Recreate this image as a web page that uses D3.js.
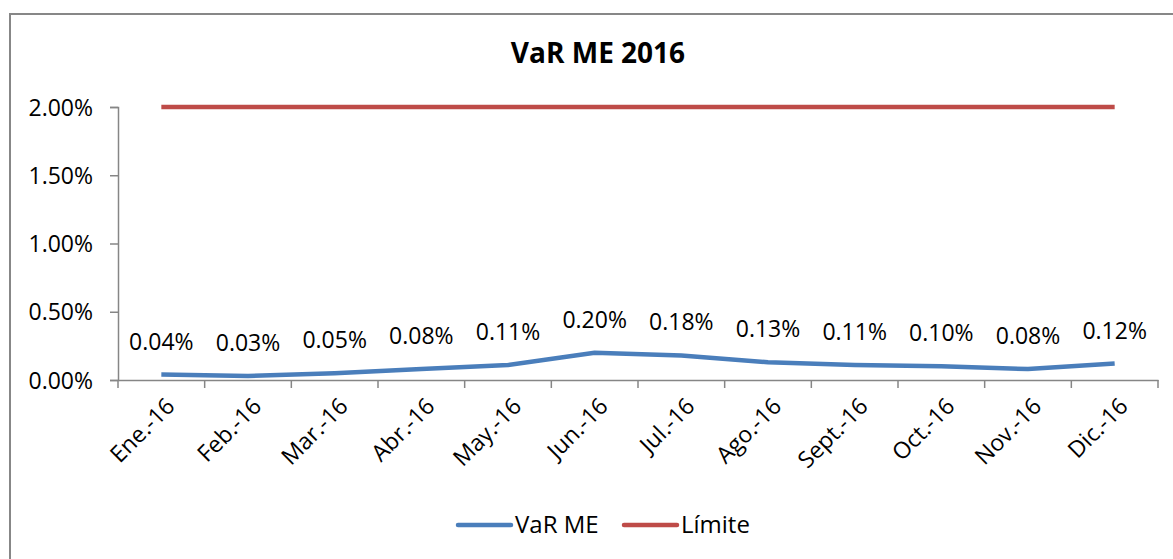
<!DOCTYPE html>
<html>
<head>
<meta charset="utf-8">
<script src="https://cdn.jsdelivr.net/npm/d3@7"></script>
<style>
  body { margin: 0; background: #fff; }
  svg { display: block; font-family: "Open Sans", Lato, sans-serif; }
</style>
</head>
<body>
<svg id="chart" width="1173" height="559"></svg>
<script>
// chart data
const months = ['Ene.-16', 'Feb.-16', 'Mar.-16', 'Abr.-16', 'May.-16', 'Jun.-16',
                'Jul.-16', 'Ago.-16', 'Sept.-16', 'Oct.-16', 'Nov.-16', 'Dic.-16'];
const varMe = [0.0004, 0.0003, 0.0005, 0.0008, 0.0011, 0.0020,
               0.0018, 0.0013, 0.0011, 0.0010, 0.0008, 0.0012];
const limite = [0.02, 0.02, 0.02, 0.02, 0.02, 0.02,
                0.02, 0.02, 0.02, 0.02, 0.02, 0.02];
const yTicks = [0, 0.005, 0.01, 0.015, 0.02];
const seriesNames = ['VaR ME', 'Límite'];
const seriesColors = ['#4a7ebb', '#be4b48'];

const svg = d3.select('#chart');

// outer frame
svg.append('rect')
    .attr('x', 10).attr('y', 14)
    .attr('width', 1180).attr('height', 560)
    .attr('fill', 'none')
    .attr('stroke', '#878787')
    .attr('stroke-width', 2);

const plot = { left: 118, right: 1158, top: 107, bottom: 380 };

const x = d3.scaleBand()
    .domain(months)
    .range([plot.left, plot.right]);

const y = d3.scaleLinear()
    .domain([0, 0.02])
    .range([plot.bottom, plot.top]);

const fs = 23;

// title
svg.append('text')
    .attr('x', 598).attr('y', 63)
    .attr('text-anchor', 'middle')
    .attr('font-size', 28)
    .attr('font-weight', 'bold')
    .text('VaR ME 2016');

// y axis
const yAxis = svg.append('g')
    .attr('transform', `translate(${plot.left},0)`)
    .call(d3.axisLeft(y).tickValues(yTicks).tickFormat(d3.format('.2%')).tickSize(8).tickPadding(17));
yAxis.selectAll('text')
    .attr('font-size', fs)
    .attr('font-family', '"Open Sans", sans-serif')
    .attr('fill', '#000')
    .attr('dy', '0.35em');

// x axis: ticks at band boundaries
const xAxis = svg.append('g')
    .attr('transform', `translate(0,${plot.bottom})`)
    .call(d3.axisBottom(x).tickSizeOuter(0).tickSize(0));
xAxis.selectAll('.tick text')
    .attr('font-size', fs)
    .attr('font-family', '"Open Sans", sans-serif')
    .attr('fill', '#000')
    .attr('text-anchor', 'end')
    .attr('transform', 'translate(9,22) rotate(-45)')
    .attr('dy', '0.35em')
    .attr('x', 0).attr('y', 0);
xAxis.selectAll('.tick-mark')
    .data(d3.range(months.length + 1))
    .enter()
    .append('line')
    .attr('x1', i => plot.left + i * x.step())
    .attr('x2', i => plot.left + i * x.step())
    .attr('y1', 0).attr('y2', 8);

svg.selectAll('.domain, .tick line, g line').attr('stroke', '#868686').attr('stroke-width', 1.5);

// lines
const line = d3.line()
    .x((d, i) => x(months[i]) + x.bandwidth() / 2)
    .y(d => y(d));

[varMe, limite].forEach((series, k) => {
    svg.append('path')
        .datum(series)
        .attr('d', line)
        .attr('fill', 'none')
        .attr('stroke', seriesColors[k])
        .attr('stroke-width', 4.5)
        .attr('stroke-linejoin', 'round');
});

// data labels
svg.selectAll('text.lbl')
    .data(varMe)
    .enter()
    .append('text')
    .attr('class', 'lbl')
    .attr('x', (d, i) => x(months[i]) + x.bandwidth() / 2)
    .attr('y', d => y(d) - 25)
    .attr('text-anchor', 'middle')
    .attr('font-size', fs)
    .text(d => d3.format('.2%')(d));

// legend
const legendItems = [{ x: 458 }, { x: 624 }];
legendItems.forEach((item, k) => {
    svg.append('line')
        .attr('x1', item.x).attr('x2', item.x + 53)
        .attr('y1', 525).attr('y2', 525)
        .attr('stroke', seriesColors[k])
        .attr('stroke-width', 4.5)
        .attr('stroke-linecap', 'round');
    svg.append('text')
        .attr('x', item.x + 57).attr('y', 533)
        .attr('font-size', 24)
        .text(seriesNames[k]);
});
</script>
</body>
</html>
